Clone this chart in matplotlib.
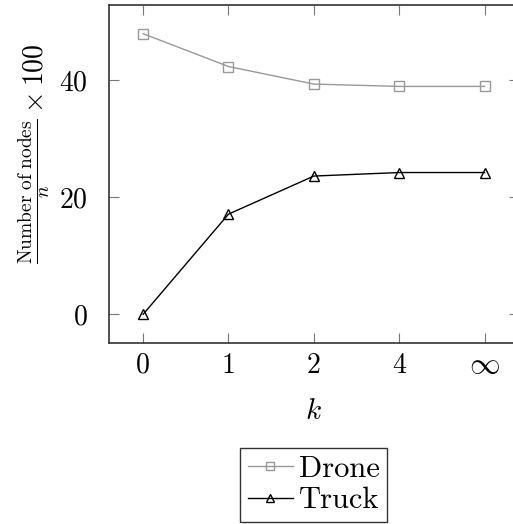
import matplotlib
matplotlib.use("Agg")
import matplotlib.pyplot as plt

plt.rcParams['font.family'] = ['cmr10', 'DejaVu Serif']
plt.rcParams['mathtext.fontset'] = 'cm'
plt.rcParams['axes.unicode_minus'] = False
plt.rcParams['axes.formatter.use_mathtext'] = True

categories = ['0', '1', '2', '4', r'$\infty$']
drone = [47.9, 42.3, 39.3, 38.9, 38.9]
truck = [0.0, 17.1, 23.6, 24.2, 24.2]
yticks = [0, 20, 40]

fig = plt.figure(figsize=(5.13, 5.24), dpi=100)
ax = fig.add_axes([109/513, 1-343/524, (518.7-109)/513, (343-5)/524])

x = list(range(len(categories)))
ax.plot(x, drone, color='#999999', lw=1.0, marker='s', ms=7.5, mfc='none',
        mec='#999999', mew=1.0, label='Drone')
ax.plot(x, truck, color='black', lw=1.0, marker='^', ms=7.5, mfc='none',
        mec='black', mew=1.0, label='Truck')

ax.set_xlim(-0.4, 4.4)
ax.set_ylim(-4.9, 52.8)
ax.set_xticks(x)
ax.set_xticklabels(categories)
ax.set_yticks(yticks)
ax.tick_params(axis='both', direction='in', length=7, width=0.8, color='#777777',
               top=True, right=True, labelsize=20)
ax.tick_params(axis='x', pad=21.5)
ax.tick_params(axis='y', pad=15)
for lab in ax.get_xticklabels():
    lab.set_va('baseline')
    if 'infty' in lab.get_text():
        lab.set_fontsize(22)
for s in ax.spines.values():
    s.set_linewidth(1.2)
    s.set_color('#333333')

ax.set_xlabel(r'$k$', fontsize=21)
ax.xaxis.set_label_coords(0.5, -0.165)
ax.set_ylabel(r'$\frac{\mathrm{Number\ of\ nodes}}{n} \times 100$', fontsize=20)
ax.yaxis.set_label_coords(-0.139, 0.56)

leg = ax.legend(loc='upper center', bbox_to_anchor=(0.5, -0.311), ncol=1,
                fontsize=22, frameon=True, fancybox=False, edgecolor='black',
                handlelength=1.47, handletextpad=0.2, borderpad=0.25,
                labelspacing=0.12, borderaxespad=0, markerscale=0.85)
leg.get_frame().set_linewidth(1.0)

fig.savefig('out.png', dpi=100)
